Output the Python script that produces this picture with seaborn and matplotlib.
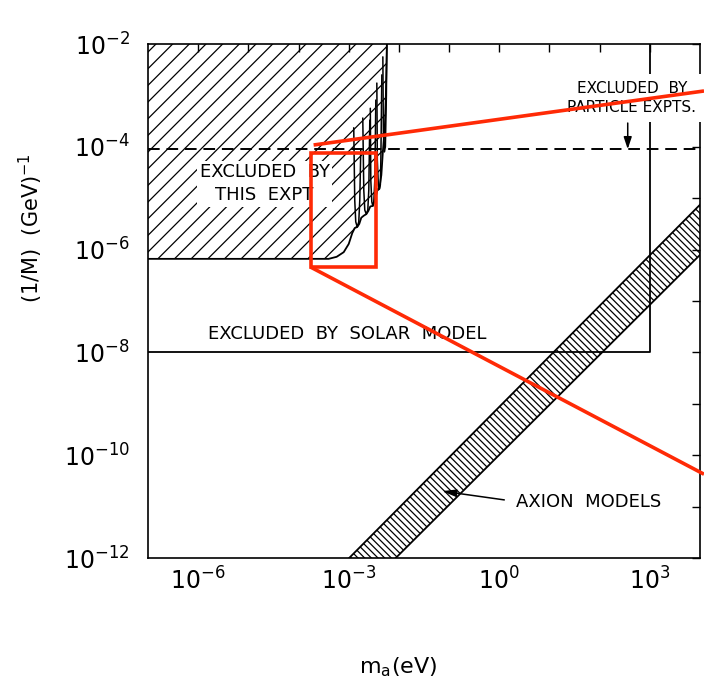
import numpy as np
import matplotlib
matplotlib.use("Agg")
import matplotlib.pyplot as plt
import seaborn as sns
from matplotlib.patches import Rectangle
from matplotlib.ticker import FixedLocator, FuncFormatter, NullLocator

# ---- limits in the (axion mass m_a [eV], coupling 1/M [GeV^-1]) plane ----
# This experiment: lower edge of the excluded region (log10 values)
expt_log_m = [-7.0, -3.40, -3.24, -3.10, -3.00, -2.93, -2.88, -2.83, -2.79, -2.75,
              -2.70, -2.65, -2.61, -2.57, -2.52, -2.47, -2.43, -2.39, -2.35, -2.32,
              -2.28, -2.26, -2.24]
expt_log_g = [-6.18, -6.18, -6.14, -6.05, -5.89, -5.68, -5.58, -5.56, -5.50, -5.38,
              -5.34, -5.31, -5.25, -5.16, -5.15, -5.00, -4.85, -4.82, -4.55, -4.10,
              -3.60, -3.00, -2.00]

# Individual resonance scans of the experiment (log10 values)
scan_log_m = [
    [-2.90, -2.88, -2.86, -2.83, -2.80, -2.78, -2.76],
    [-2.72, -2.70, -2.68, -2.65, -2.62, -2.60, -2.58],
    [-2.57, -2.56, -2.54, -2.52, -2.50, -2.48, -2.46],
    [-2.44, -2.43, -2.41, -2.39, -2.37, -2.36, -2.34],
    [-2.32, -2.31, -2.29, -2.27, -2.25, -2.24],
]
scan_log_g = [
    [-3.63, -5.04, -5.46, -5.56, -5.46, -5.04, -4.06],
    [-3.44, -4.84, -5.23, -5.31, -5.23, -4.84, -3.48],
    [-3.25, -4.65, -5.07, -5.15, -5.07, -4.65, -3.09],
    [-2.76, -4.26, -4.74, -4.82, -4.74, -4.26, -2.60],
    [-2.25, -3.70, -4.10, -4.00, -3.00, -2.00],
]

# Solar model bound: 1/M > 1e-8 GeV^-1 for m_a < 1e3 eV
solar_m = [1e-7, 1e3, 1e3]
solar_g = [1e-8, 1e-8, 1e-2]

# Particle experiments bound
particle_g = 9e-5

# Axion model band
band_m = [3.0e-4, 3.0e4]
band_upper = [3.0e-13, 2.2e-5]
band_lower = [3.8e-14, 2.3e-6]

# Region shown in detail (callout box) and its guide lines (log10 values)
box_log_m = [-3.76, -2.46]
box_log_g = [-6.34, -4.12]
guide_top_log_m = [-3.70, 4.08]
guide_top_log_g = [-3.965, -2.914]
guide_bot_log_m = [-3.76, 4.08]
guide_bot_log_g = [-6.34, -10.37]

x_label_exps = [-6, -3, 0, 3]
y_label_exps = [-2, -4, -6, -8, -10, -12]

sns.set_theme(style="white")
plt.rcParams["font.family"] = ["DejaVu Sans"]
plt.rcParams["mathtext.fontset"] = "dejavusans"
plt.rcParams["hatch.linewidth"] = 0.9
plt.rcParams["hatch.color"] = "black"

fig = plt.figure(figsize=(7.04, 6.8), dpi=100)
ax = fig.add_axes([148 / 704, 122 / 680, 552 / 704, 514 / 680])
ax.set_xscale("log")
ax.set_yscale("log")
ax.set_xlim(1e-7, 1e4)
ax.set_ylim(1e-12, 1e-2)

ink = "black"
red = "#ff2a06"

# excluded by this experiment: hatched area above the limit curve
exp_m = 10.0 ** np.array(expt_log_m)
exp_g = 10.0 ** np.array(expt_log_g)
g_top = 1e-2
poly_m = np.concatenate([exp_m, [exp_m[-1], exp_m[0]]])
poly_g = np.concatenate([exp_g, [g_top, g_top]])
ax.fill(poly_m, poly_g, facecolor="none", edgecolor=ink, hatch="//", linewidth=0)
sns.lineplot(x=exp_m, y=exp_g, sort=False, estimator=None, color=ink, lw=1.3, ax=ax)
for lm, lg in zip(scan_log_m, scan_log_g):
    sns.lineplot(x=10.0 ** np.array(lm), y=10.0 ** np.array(lg), sort=False,
                 estimator=None, color=ink, lw=1.1, ax=ax)

# solar model bound
sns.lineplot(x=solar_m, y=solar_g, sort=False, estimator=None, color=ink, lw=1.3, ax=ax)

# particle experiments bound
ax.axhline(particle_g, color=ink, lw=1.4, ls=(0, (6, 3.5)))

# axion model band
ax.fill_between(band_m, band_lower, band_upper, facecolor="none", edgecolor=ink,
                hatch="\\\\\\\\\\", linewidth=0)
sns.lineplot(x=band_m, y=band_upper, color=ink, lw=1.3, ax=ax)
sns.lineplot(x=band_m, y=band_lower, color=ink, lw=1.3, ax=ax)

# labels
ax.text(2.1e-5, 1.9e-5, "EXCLUDED  BY\nTHIS  EXPT", ha="center", va="center",
        fontsize=13, color=ink, linespacing=1.35,
        bbox=dict(facecolor="white", edgecolor="none", pad=2))
ax.text(1.58e-6, 2.3e-8, "EXCLUDED  BY  SOLAR  MODEL", ha="left", va="center",
        fontsize=13, color=ink)
ax.text(437, 8.9e-4, "EXCLUDED  BY\nPARTICLE EXPTS.", ha="center", va="center",
        fontsize=11, color=ink, linespacing=1.4,
        bbox=dict(facecolor="white", edgecolor="none", pad=5))
ax.annotate("", xy=(363, particle_g), xytext=(363, 2.9e-4),
            arrowprops=dict(arrowstyle="-|>,head_length=0.6,head_width=0.2",
                            color=ink, lw=1.1, shrinkA=0, shrinkB=0))
ax.text(2.19, 1.23e-11, "AXION  MODELS", ha="left", va="center", fontsize=13, color=ink)
ax.annotate("", xy=(0.072, 2.0e-11), xytext=(1.26, 1.35e-11),
            arrowprops=dict(arrowstyle="-|>,head_length=0.7,head_width=0.18",
                            color=ink, lw=1.1, shrinkA=0, shrinkB=0))

# callout box and guide lines
bm = 10.0 ** np.array(box_log_m)
bg = 10.0 ** np.array(box_log_g)
ax.add_patch(Rectangle((bm[0], bg[0]), bm[1] - bm[0], bg[1] - bg[0],
                       facecolor="none", edgecolor=red, lw=2.6, zorder=5))
ax.plot(10.0 ** np.array(guide_top_log_m), 10.0 ** np.array(guide_top_log_g),
        color=red, lw=2.6, clip_on=False, zorder=5, solid_capstyle="butt")
ax.plot(10.0 ** np.array(guide_bot_log_m), 10.0 ** np.array(guide_bot_log_g),
        color=red, lw=2.6, clip_on=False, zorder=5, solid_capstyle="butt")

# axes, ticks and labels
def fmt_factory(shown):
    def fmt(v, _):
        e = int(round(np.log10(v)))
        return f"$10^{{{e}}}$" if e in shown else ""
    return fmt

ax.xaxis.set_major_locator(FixedLocator(10.0 ** np.arange(-6, 4)))
ax.yaxis.set_major_locator(FixedLocator(10.0 ** np.arange(-12, -1)))
ax.xaxis.set_minor_locator(NullLocator())
ax.yaxis.set_minor_locator(NullLocator())
ax.xaxis.set_major_formatter(FuncFormatter(fmt_factory(x_label_exps)))
ax.yaxis.set_major_formatter(FuncFormatter(fmt_factory(y_label_exps)))
ax.tick_params(which="major", direction="in", length=6, width=1.0, colors=ink,
               top=True, right=True, labelsize=17)
ax.tick_params(axis="x", pad=7)
ax.tick_params(axis="y", pad=13)
for s in ax.spines.values():
    s.set_color(ink)
    s.set_linewidth(1.2)

ax.set_xlabel(r"$\mathregular{m_a}$(eV)", fontsize=16, color=ink)
ax.xaxis.set_label_coords(0.453, -0.189)
ax.set_ylabel(r"(1/M)  (GeV)$^{-1}$", fontsize=15, color=ink)
ax.yaxis.set_label_coords(-0.187, 0.642)

fig.savefig("out.png", dpi=100, facecolor="white")
